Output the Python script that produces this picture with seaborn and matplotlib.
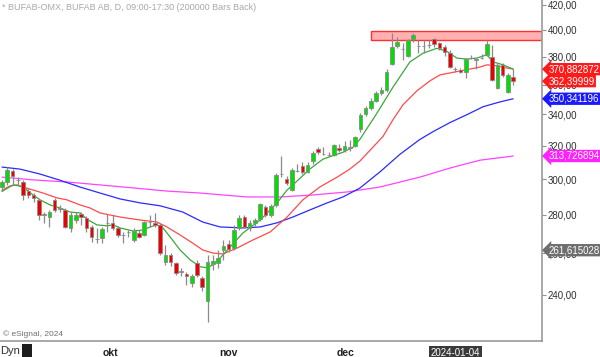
import matplotlib
matplotlib.use("Agg")
import numpy as np
import pandas as pd
import seaborn as sns
import matplotlib.pyplot as plt
from matplotlib.patches import Rectangle
from matplotlib.ticker import FixedLocator, NullLocator, FixedFormatter
from matplotlib.transforms import blended_transform_factory

# ---------------- data ----------------
opens = [295.5, 298.4, 304.7, 299.8, 298.4, 293.2, 291.0, 288.3, 280.5, 278.9,
         288.3, 283.5, 282.7, 273.1, 277.3, 280.5, 278.4, 273.6, 267.5, 268.0,
         275.5, 275.8, 273.1, 269.6, 271.0, 266.8, 270.4, 269.4, 276.0, 275.8,
         274.7, 255.8, 259.2, 255.3, 251.2, 250.0, 245.7, 255.3, 248.1, 237.2,
         254.8, 255.3, 261.7, 264.7, 262.7, 273.1, 278.9, 273.1, 275.8, 277.8,
         284.3, 280.0, 285.5, 302.8, 300.1, 293.8, 304.5, 307.6, 304.2, 310.6,
         317.8, 314.9, 314.3, 314.1, 318.4, 317.2, 318.8, 319.6, 330.7, 340.5,
         344.3, 349.0, 354.3, 356.3, 374.7, 388.0, 385.9, 380.1, 393.1, 388.0,
         388.2, 388.7, 393.1, 390.1, 387.2, 382.8, 371.2, 370.5, 368.9, 379.2,
         377.9, 379.0, 381.3, 379.4, 357.7, 374.0, 354.7, 365.3]
highs = [299.6, 307.1, 305.9, 301.5, 299.6, 295.0, 292.1, 289.4, 281.6, 282.7,
         289.4, 285.5, 283.8, 281.6, 281.6, 281.6, 279.5, 274.7, 273.1, 273.6,
         280.5, 280.0, 274.2, 271.0, 272.0, 273.1, 272.0, 276.8, 280.0, 281.1,
         275.8, 264.2, 260.2, 255.8, 252.9, 250.9, 250.0, 256.8, 249.0, 259.2,
         259.2, 261.7, 266.8, 266.8, 274.7, 280.0, 280.0, 277.3, 278.4, 286.4,
         285.5, 286.0, 303.5, 313.6, 302.0, 306.5, 308.8, 310.0, 310.0, 316.6,
         319.0, 319.0, 315.9, 320.8, 320.8, 322.7, 323.3, 325.8, 341.0, 345.7,
         350.9, 355.7, 358.3, 370.9, 397.7, 394.8, 390.0, 393.1, 397.7, 392.4,
         392.4, 392.4, 393.9, 390.8, 388.7, 385.0, 372.4, 371.7, 379.0, 381.3,
         379.0, 382.0, 392.4, 388.7, 375.5, 375.5, 368.2, 371.0]
lows = [293.2, 296.7, 296.7, 296.7, 288.3, 289.4, 287.2, 277.3, 275.8, 273.6,
        281.6, 281.6, 273.1, 271.0, 275.8, 274.7, 271.0, 265.8, 265.2, 265.2,
        271.0, 272.0, 268.4, 265.2, 268.4, 265.8, 267.8, 268.9, 273.6, 273.6,
        259.2, 254.3, 253.8, 249.5, 249.0, 244.7, 243.8, 248.6, 241.9, 227.6,
        251.9, 252.9, 256.8, 260.7, 261.7, 272.0, 273.1, 271.5, 274.2, 276.8,
        278.9, 278.9, 284.3, 301.2, 296.7, 293.2, 304.2, 303.0, 303.6, 308.8,
        314.7, 314.1, 313.5, 313.5, 316.0, 316.0, 316.6, 319.0, 328.8, 339.0,
        343.0, 348.2, 353.0, 355.0, 374.0, 386.5, 377.5, 379.4, 390.8, 382.8,
        382.8, 386.5, 387.2, 385.0, 380.2, 371.7, 368.9, 368.2, 364.7, 377.9,
        371.0, 377.9, 380.1, 362.6, 357.0, 365.3, 354.0, 359.8]
closes = [298.4, 305.3, 301.7, 299.4, 291.0, 291.0, 289.4, 280.0, 280.0, 281.6,
          282.7, 283.8, 273.6, 280.0, 280.0, 278.9, 273.1, 268.4, 267.3, 272.5,
          275.8, 273.1, 269.4, 269.4, 271.0, 271.5, 268.4, 276.2, 276.2, 274.7,
          260.2, 259.2, 255.8, 250.4, 250.9, 249.0, 249.0, 249.5, 243.8, 255.8,
          256.3, 257.7, 263.7, 262.2, 272.0, 278.4, 273.6, 275.8, 277.3, 285.9,
          280.0, 284.9, 302.4, 303.0, 297.8, 305.3, 304.7, 304.2, 308.2, 315.3,
          316.0, 314.7, 314.1, 320.2, 317.2, 319.6, 319.0, 325.2, 339.7, 344.3,
          348.9, 354.3, 356.3, 368.8, 387.0, 391.0, 385.7, 392.4, 396.2, 387.9,
          388.0, 388.5, 389.4, 386.5, 383.5, 372.4, 371.0, 368.9, 378.3, 379.0,
          377.7, 379.2, 389.4, 363.3, 374.0, 366.8, 366.8, 362.4]

# moving averages sampled along the bar index
ma_green_idx = [0, 2.1, 3.4, 4.7, 5.9, 7.2, 9.1, 11.0, 12.9, 14.8, 16.1, 18.0, 19.9, 21.1,
                22.4, 24.9, 26.8, 28.1, 29.4, 30.4, 31.9, 33.8, 35.7, 37.6, 38.9, 40.0,
                41.4, 43.3, 45.7, 49.0, 52.2, 54.1, 55.2, 58.4, 60.9, 64.7, 66.6, 67.9,
                71.2, 74.2, 77.4, 79.9, 82.5, 84.4, 86.3, 88.2, 90.1, 92.0, 93.2, 95.1, 97.0]
ma_green_val = [293.0, 296.7, 296.1, 293.8, 291.0, 288.3, 285.5, 283.8, 281.6, 281.1, 277.8,
                274.7, 274.2, 274.7, 273.1, 271.5, 272.0, 273.6, 274.7, 273.6, 268.4, 261.7,
                256.8, 253.4, 252.9, 254.3, 257.7, 263.2, 270.4, 277.3, 286.6, 293.8, 296.7,
                305.9, 311.8, 316.0, 319.0, 323.9, 341.0, 358.3, 376.1, 382.5, 386.1, 383.9,
                378.9, 378.2, 378.9, 381.3, 376.1, 374.0, 370.9]

ma_red_idx = [0, 1.5, 2.8, 4.0, 5.9, 7.8, 10.4, 12.3, 14.8, 16.7, 18.6, 20.5, 22.4, 26.2,
              29.4, 31.3, 33.8, 36.2, 38.1, 40.0, 41.9, 44.6, 47.6, 50.9, 54.1, 57.1, 60.3,
              63.6, 66.0, 67.9, 72.3, 74.2, 76.1, 78.7, 81.2, 83.1, 85.0, 86.9, 88.8, 90.7,
              92.0, 93.9, 95.8, 97.0]
ma_red_val = [293.6, 296.1, 296.7, 295.5, 293.8, 292.1, 289.4, 288.3, 285.5, 283.8, 281.1,
              280.0, 278.9, 277.3, 276.2, 273.6, 269.4, 265.2, 261.7, 260.2, 259.7, 262.7,
              266.8, 271.0, 278.9, 288.3, 295.5, 301.2, 305.9, 310.6, 325.8, 336.5, 346.3,
              355.6, 362.6, 366.8, 368.2, 369.6, 371.0, 372.4, 374.0, 373.3, 371.7, 371.0]

ma_blue_idx = [0, 3.4, 7.2, 11.0, 14.8, 18.6, 22.4, 26.2, 30.0, 34.3, 38.1, 41.4, 45.7,
               49.0, 52.2, 55.2, 58.4, 61.7, 64.7, 67.9, 71.7, 75.5, 79.3, 81.8, 85.0,
               88.2, 91.3, 94.5, 97.0]
ma_blue_val = [307.1, 305.9, 303.0, 299.4, 295.5, 292.1, 288.8, 286.6, 285.0, 281.6, 276.2,
               273.6, 273.1, 273.6, 275.8, 278.9, 282.7, 286.6, 289.9, 294.9, 304.2, 314.7,
               323.9, 328.8, 334.6, 339.7, 345.0, 348.2, 350.3]

ma_pink_idx = [0, 5.9, 12.3, 18.6, 24.9, 31.3, 37.6, 40.0, 46.5, 52.8, 59.0, 65.5, 71.7,
               79.3, 85.0, 90.7, 97.0]
ma_pink_val = [301.2, 299.6, 298.4, 296.7, 295.0, 293.2, 292.1, 291.5, 289.9, 289.9, 291.0,
               292.7, 295.5, 301.2, 306.5, 311.2, 313.7]

# resistance zone
zone_start = 70
zone_low, zone_high = 392.0, 399.2

# axis
y_ticks = [240, 260, 280, 300, 320, 340, 360, 380, 400, 420]
x_tick_pos = [20.6, 43.0, 65.1, 86.0]
x_tick_labels = ["okt", "nov", "dec", "2024-01-04"]

value_labels = ["370,882872", "362,39999", "350,341196", "313,726894", "261,615028"]
value_levels = [370.882872, 362.39999, 350.341196, 313.726894, 261.615028]
value_colors = ["#ff1a1a", "#ff1a1a", "#1a1aff", "#ff22ff", "#6e6e6e"]

title = "* BUFAB-OMX, BUFAB AB, D, 09:00-17:30 (200000 Bars Back)"

# ---------------- drawing ----------------
sns.set_style("white")
plt.rcParams["font.family"] = ["Liberation Sans", "DejaVu Sans"]

fig = plt.figure(figsize=(6.0, 3.57), dpi=100)
ax = fig.add_axes([0.0, 16 / 357, 542 / 600, 341 / 357])
ax.set_yscale("log")

df = pd.DataFrame({"o": opens, "h": highs, "l": lows, "c": closes})
df["i"] = np.arange(len(df))

# resistance zone
ax.add_patch(Rectangle((zone_start, zone_low), 200, zone_high - zone_low,
                       facecolor="#ffb0b0", edgecolor="#ff3030", lw=1.0, zorder=1))

# moving averages
for xs, ys, col in [(ma_pink_idx, ma_pink_val, "#ff44ff"),
                    (ma_blue_idx, ma_blue_val, "#2a2aff"),
                    (ma_red_idx, ma_red_val, "#ff4a4a"),
                    (ma_green_idx, ma_green_val, "#3aa83a")]:
    sns.lineplot(x=xs, y=ys, ax=ax, color=col, lw=0.9, sort=False,
                 estimator=None, zorder=2)

# candles
ax.vlines(df["i"], df["l"], df["h"], color="#8a8a8a", lw=0.9, zorder=3)
diff = df["c"] - df["o"]
cols = np.where(diff > 0.5, "#00e000", np.where(diff < -0.5, "#ee0000", "#8a8a8a"))
bottoms = np.minimum(df["o"], df["c"])
heights = np.maximum(np.abs(diff), 0.15)
ax.bar(df["i"], heights, bottom=bottoms, width=0.68, color=cols,
       edgecolor="#8a8a8a", linewidth=0.6, zorder=4)

ax.set_xlim(-0.38, 102.47)
ax.set_ylim(219.6, 423.8)

# y axis on the right
ax.yaxis.tick_right()
ax.yaxis.set_major_locator(FixedLocator(y_ticks))
ax.yaxis.set_major_formatter(FixedFormatter([f"{v},00" for v in y_ticks]))
ax.yaxis.set_minor_locator(NullLocator())
ax.tick_params(axis="y", which="major", right=True, left=False, length=3,
               width=0.8, color="#909090", labelsize=7, labelcolor="#303030", pad=1)

# x axis
ax.set_xticks(x_tick_pos)
ax.set_xticklabels(x_tick_labels)
ax.tick_params(axis="x", length=3, width=0.8, color="#909090", labelsize=7.5,
               labelcolor="#202020", pad=2)
for lab in ax.get_xticklabels():
    lab.set_fontweight("bold")
last = ax.get_xticklabels()[3]
last.set_color("white")
last.set_fontweight("normal")
last.set_fontsize(7)
last.set_bbox(dict(facecolor="#3a3a3a", edgecolor="none", pad=1.2))

for s in ["top", "left"]:
    ax.spines[s].set_visible(False)
for s in ["right", "bottom"]:
    ax.spines[s].set_color("#9a9a9a")
    ax.spines[s].set_linewidth(1.2)

ax.set_xlabel("")
ax.set_ylabel("")
ax.grid(False)

# value labels on the right axis
tr = blended_transform_factory(ax.transAxes, ax.transData)
for txt, lvl, col in zip(value_labels, value_levels, value_colors):
    ax.text(1.012, lvl, txt, transform=tr, ha="left", va="center", fontsize=7,
            color="white", clip_on=False, zorder=10,
            bbox=dict(boxstyle="larrow,pad=0.12", facecolor=col, edgecolor="none"))

# texts
fig.text(0.004, 1 - 8 / 357, title, fontsize=6.5, color="#a8a8a8", va="center", ha="left")
fig.text(0.005, (357 - 334) / 357, "\u00a9 eSignal, 2024", fontsize=6, color="#707070",
         va="center", ha="left")
fig.text(0.0, (357 - 351) / 357, "Dyn", fontsize=8, color="#303030", va="center", ha="left")
fig.add_artist(Rectangle((22 / 600, 0), 10 / 600, 13 / 357, transform=fig.transFigure,
                         facecolor="#1e1e1e", edgecolor="none"))

fig.savefig("out.png", dpi=100)
